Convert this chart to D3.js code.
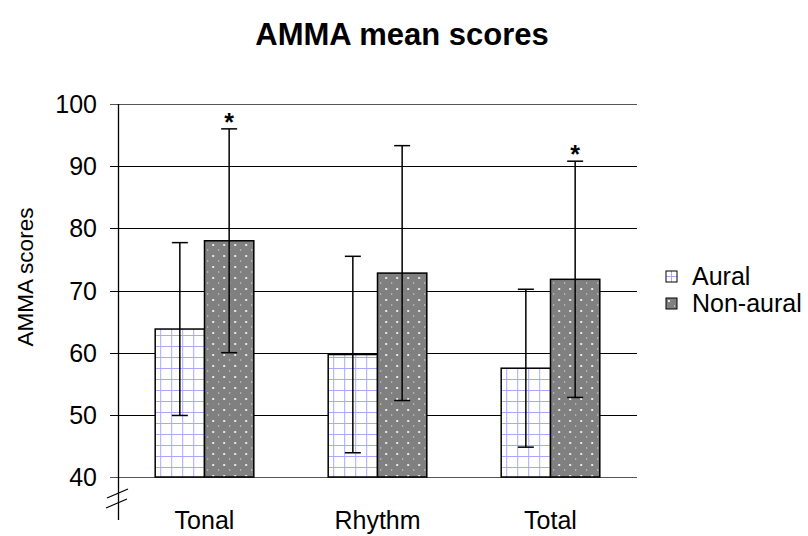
<!DOCTYPE html>
<html>
<head>
<meta charset="utf-8">
<script src="https://cdn.jsdelivr.net/npm/d3@7"></script>
<style>
  body { margin: 0; background: #fff; }
  text { font-family: "Liberation Sans", Arial, sans-serif; }
</style>
</head>
<body>
<div id="chart"></div>
<script>
const categories = ["Tonal", "Rhythm", "Total"]
const series = ["Aural", "Non-aural"]
const auralMeans = [63.8, 59.7, 57.5]
const auralErr = [13.9, 15.8, 12.7]
const nonAuralMeans = [78.0, 72.8, 71.8]
const nonAuralErr = [18.0, 20.5, 19.0]
const significant = [true, false, true]
const yTicks = [40, 50, 60, 70, 80, 90, 100]

const width = 808
const height = 536
const plotLeft = 118, plotRight = 637, plotTop = 104, plotBottom = 477

const svg = d3.select("#chart").append("svg")
  .attr("width", width)
  .attr("height", height)

const defs = svg.append("defs")

// aural: white with light blue grid
const pGrid = defs.append("pattern")
  .attr("id", "grid")
  .attr("patternUnits", "userSpaceOnUse")
  .attr("width", 11).attr("height", 11)
pGrid.append("rect").attr("width", 11).attr("height", 11).attr("fill", "#fff")
pGrid.append("path").attr("d", "M5.5,0V11M0,5.5H11")
  .attr("stroke", "#a8a8ff").attr("stroke-width", 1)

// non-aural: gray with white dots
const pDots = defs.append("pattern")
  .attr("id", "dots")
  .attr("patternUnits", "userSpaceOnUse")
  .attr("width", 11).attr("height", 11)
pDots.append("rect").attr("width", 11).attr("height", 11).attr("fill", "#808080")
pDots.append("rect").attr("x", 2).attr("y", 2).attr("width", 2).attr("height", 2).attr("fill", "#e8e8e8")
pDots.append("rect").attr("x", 8).attr("y", 7).attr("width", 1).attr("height", 2).attr("fill", "#bdbdbd")

const rows = categories.map((c, i) => ({
  cat: c,
  values: [
    {s: series[0], v: auralMeans[i], e: auralErr[i], star: false},
    {s: series[1], v: nonAuralMeans[i], e: nonAuralErr[i], star: significant[i]}
  ]
}))

const x0 = d3.scaleBand()
  .domain(categories)
  .range([plotLeft, plotRight])
  .paddingInner(0.43)
  .paddingOuter(0.215)

const x1 = d3.scaleBand()
  .domain(series)
  .range([0, x0.bandwidth()])

const yScale = d3.scaleLinear()
  .domain([40, 100])
  .range([plotBottom, plotTop])

const fills = {"Aural": "url(#grid)", "Non-aural": "url(#dots)"}

// title
svg.append("text")
  .attr("x", 402).attr("y", 45)
  .attr("text-anchor", "middle")
  .attr("font-size", 31).attr("font-weight", "bold")
  .text("AMMA mean scores")

// gridlines
svg.append("g")
  .selectAll("line")
  .data(yTicks)
  .enter()
  .append("line")
    .attr("x1", plotLeft - 8)
    .attr("x2", plotRight)
    .attr("y1", d => Math.round(yScale(d)) + 0.5)
    .attr("y2", d => Math.round(yScale(d)) + 0.5)
    .attr("stroke", d => (d === 100 || d === 40) ? "#555" : "#000")
    .attr("stroke-width", 1.2)

// y tick labels
svg.append("g")
  .selectAll("text")
  .data(yTicks)
  .enter()
  .append("text")
    .attr("x", 97)
    .attr("y", d => yScale(d) + 9)
    .attr("text-anchor", "end")
    .attr("font-size", 25)
    .text(d => d)

// y axis line with break
svg.append("line")
  .attr("x1", plotLeft + 0.5).attr("x2", plotLeft + 0.5)
  .attr("y1", plotTop).attr("y2", 520)
  .attr("stroke", "#000").attr("stroke-width", 1.3)
svg.append("line")
  .attr("x1", 107).attr("y1", 498).attr("x2", 128).attr("y2", 489)
  .attr("stroke", "#000").attr("stroke-width", 1.3)
svg.append("line")
  .attr("x1", 106).attr("y1", 508).attr("x2", 127).attr("y2", 499)
  .attr("stroke", "#000").attr("stroke-width", 1.3)

// bars
const groups = svg.append("g")
  .selectAll("g")
  .data(rows)
  .enter()
  .append("g")
    .attr("transform", d => `translate(${x0(d.cat)},0)`)

groups.selectAll("rect")
  .data(d => d.values)
  .enter()
  .append("rect")
    .attr("x", d => x1(d.s))
    .attr("y", d => yScale(d.v))
    .attr("width", x1.bandwidth())
    .attr("height", d => plotBottom - yScale(d.v))
    .attr("fill", d => fills[d.s])
    .attr("stroke", "#000")
    .attr("stroke-width", 1.5)

// error bars
const errs = groups.selectAll("g.err")
  .data(d => d.values)
  .enter()
  .append("g")
    .attr("class", "err")
    .attr("transform", d => `translate(${x1(d.s) + x1.bandwidth() / 2},0)`)

errs.append("line")
  .attr("y1", d => yScale(d.v - d.e))
  .attr("y2", d => yScale(d.v + d.e))
  .attr("stroke", "#000").attr("stroke-width", 1.5)
errs.append("line")
  .attr("x1", -8).attr("x2", 8)
  .attr("y1", d => yScale(d.v - d.e))
  .attr("y2", d => yScale(d.v - d.e))
  .attr("stroke", "#000").attr("stroke-width", 1.5)
errs.append("line")
  .attr("x1", -8).attr("x2", 8)
  .attr("y1", d => yScale(d.v + d.e))
  .attr("y2", d => yScale(d.v + d.e))
  .attr("stroke", "#000").attr("stroke-width", 1.5)
errs.filter(d => d.star)
  .append("text")
    .attr("y", d => yScale(d.v + d.e) + 2)
    .attr("text-anchor", "middle")
    .attr("font-size", 25).attr("font-weight", "bold")
    .text("*")

// x labels
svg.append("g")
  .selectAll("text")
  .data(categories)
  .enter()
  .append("text")
    .attr("x", d => x0(d) + x0.bandwidth() / 2)
    .attr("y", 529)
    .attr("text-anchor", "middle")
    .attr("font-size", 25)
    .text(d => d)

// y title
svg.append("text")
  .attr("transform", "translate(33,277) rotate(-90)")
  .attr("text-anchor", "middle")
  .attr("font-size", 22.5)
  .text("AMMA scores")

// legend
const legend = svg.append("g")
  .selectAll("g")
  .data(series)
  .enter()
  .append("g")
    .attr("transform", (d, i) => `translate(666,${271 + i * 27})`)
legend.append("rect")
  .attr("width", 11).attr("height", 11)
  .attr("fill", d => fills[d])
  .attr("stroke", "#000").attr("stroke-width", 1)
legend.append("text")
  .attr("x", 26).attr("y", 14)
  .attr("font-size", 25)
  .text(d => d)
</script>
</body>
</html>
